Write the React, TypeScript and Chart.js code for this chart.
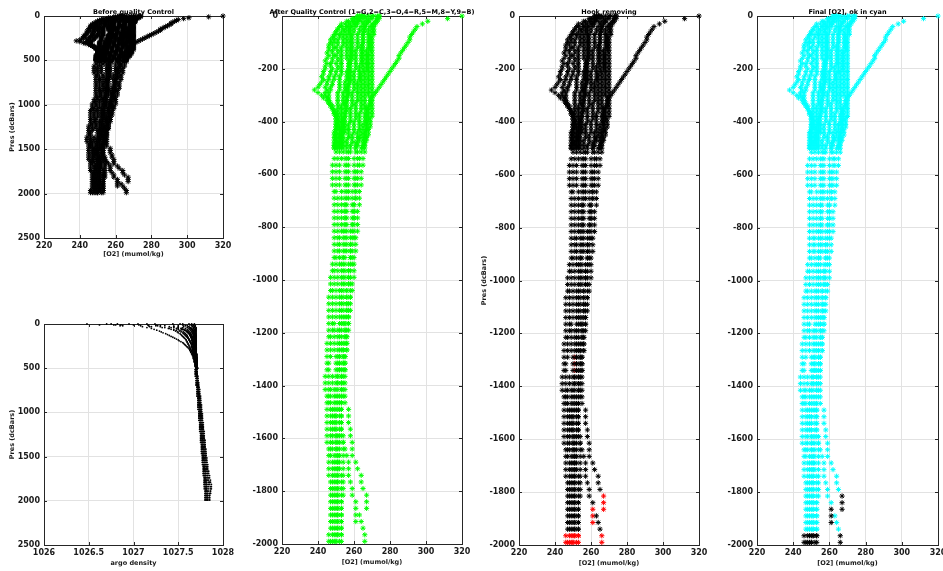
import React, { useEffect, useRef } from "react";
import { Chart, registerables } from "chart.js";

Chart.register(...registerables);

// Pressure levels (dbar) shared by every profile: 51 upper levels + 60 deep levels
const pressure = [
  0, 10, 20, 30, 40, 50, 60, 70, 80, 90,
  100, 110, 120, 130, 140, 150, 160, 170, 180, 190,
  200, 210, 220, 230, 240, 250, 260, 270, 280, 290,
  300, 310, 320, 330, 340, 350, 360, 370, 380, 390,
  400, 410, 420, 430, 440, 450, 460, 470, 480, 490,
  500,
  515, 540, 565, 590, 615, 640, 665, 690, 715, 740,
  765, 790, 815, 840, 865, 890, 915, 940, 965, 990,
  1015, 1040, 1065, 1090, 1115, 1140, 1165, 1190, 1215, 1240,
  1265, 1290, 1315, 1340, 1365, 1390, 1415, 1440, 1465, 1490,
  1515, 1540, 1565, 1590, 1615, 1640, 1665, 1690, 1715, 1740,
  1765, 1790, 1815, 1840, 1865, 1890, 1915, 1940, 1965, 1990,
];

// [O2] (mumol/kg) per profile
const o2P1 = [
  320, 312, 301, 298, 295, 294, 293, 292, 291, 291,
  290, 289, 288, 287, 286, 285, 285, 284, 283, 282,
  281, 280, 279, 278, 277, 276, 275, 274, 273, 272,
  271, 270, 269, 269, 268, 267, 267, 266, 266, 266,
  266, 265, 265, 265, 264, 264, 263, 263, 262, 262,
  261,
  262, 262, 262, 261, 261, 261, 261, 261, 260, 260,
  260, 260, 260, 260, 259, 259, 259, 259, 258, 258,
  258, 258, 258, 257, 257, 257, 257, 256, 256, 256,
  256, 255, 255, 255, 254, 254, 254, 254, 253, 253,
  253, 253, 253, 253, 254, 254, 254, 254, 254, 254,
  254, 254, 254, 253, 253, 253, 253, 253, 253, 253,
];
const o2P2 = [
  262, 260, 257, 255, 253, 251, 250, 249, 248, 247,
  247, 246, 246, 246, 245, 246, 245, 244, 245, 244,
  244, 243, 243, 242, 243, 242, 241, 240, 238, 240,
  242, 243, 245, 246, 247, 248, 249, 249, 250, 250,
  251, 251, 251, 250, 250, 250, 250, 250, 250, 250,
  250,
  250, 249, 248, 248, 248, 248, 249, 249, 249, 249,
  249, 249, 249, 249, 249, 249, 249, 248, 248, 247,
  247, 247, 246, 246, 246, 246, 246, 246, 246, 245,
  245, 245, 245, 245, 244, 244, 244, 245, 245, 245,
  245, 245, 245, 245, 245, 246, 246, 246, 246, 246,
  247, 247, 247, 247, 247, 247, 247, 247, 246, 246,
];
const o2P3 = [
  264, 262, 260, 258, 256, 254, 253, 252, 252, 251,
  251, 251, 250, 251, 251, 250, 251, 251, 250, 251,
  251, 250, 250, 249, 249, 248, 248, 247, 247, 246,
  246, 246, 246, 246, 247, 248, 249, 249, 250, 251,
  251, 251, 252, 252, 252, 252, 252, 252, 251, 251,
  251,
  252, 251, 250, 250, 250, 250, 250, 251, 251, 251,
  251, 251, 251, 251, 251, 251, 250, 250, 249, 249,
  249, 248, 248, 248, 248, 248, 248, 248, 247, 247,
  247, 247, 246, 246, 246, 246, 246, 246, 246, 247,
  247, 247, 247, 247, 247, 247, 247, 248, 248, 248,
  248, 248, 248, 248, 248, 248, 248, 248, 248, 247,
];
const o2P4 = [
  265, 263, 262, 260, 258, 257, 257, 256, 256, 256,
  256, 256, 256, 256, 256, 256, 256, 257, 257, 257,
  257, 256, 256, 256, 256, 255, 255, 255, 255, 254,
  254, 254, 254, 254, 253, 253, 253, 253, 253, 253,
  253, 253, 253, 253, 253, 252, 252, 252, 252, 252,
  252,
  254, 253, 252, 252, 252, 252, 253, 253, 253, 253,
  253, 253, 253, 252, 252, 252, 252, 252, 251, 251,
  251, 250, 250, 250, 250, 250, 249, 249, 249, 249,
  249, 250, 250, 250, 248, 248, 247, 247, 247, 248,
  248, 248, 248, 248, 248, 248, 249, 249, 249, 249,
  249, 249, 249, 249, 249, 249, 249, 249, 249, 248,
];
const o2P5 = [
  266, 265, 264, 262, 261, 260, 260, 259, 259, 259,
  259, 259, 259, 259, 259, 259, 259, 258, 258, 258,
  258, 258, 258, 258, 258, 258, 257, 257, 257, 257,
  257, 256, 256, 256, 256, 256, 256, 255, 255, 255,
  255, 255, 255, 255, 255, 254, 254, 254, 254, 254,
  254,
  256, 255, 255, 255, 255, 255, 255, 255, 255, 255,
  255, 255, 254, 254, 254, 254, 254, 253, 253, 253,
  253, 252, 252, 252, 252, 252, 252, 251, 251, 251,
  251, 251, 251, 251, 250, 250, 249, 249, 249, 249,
  249, 249, 249, 250, 250, 250, 250, 250, 250, 250,
  250, 250, 250, 250, 250, 250, 250, 250, 250, 249,
];
const o2P6 = [
  268, 267, 266, 265, 264, 263, 263, 262, 262, 262,
  262, 262, 262, 261, 261, 261, 261, 261, 261, 261,
  261, 260, 260, 260, 260, 260, 260, 260, 260, 259,
  259, 259, 259, 259, 259, 258, 258, 258, 258, 258,
  258, 257, 257, 257, 257, 257, 257, 256, 256, 256,
  256,
  258, 257, 257, 257, 257, 257, 257, 257, 256, 256,
  256, 256, 256, 256, 256, 256, 255, 255, 255, 255,
  255, 254, 254, 254, 254, 254, 254, 253, 253, 253,
  253, 252, 252, 252, 251, 251, 251, 251, 251, 251,
  250, 250, 250, 251, 251, 251, 251, 251, 251, 251,
  251, 251, 251, 251, 251, 251, 251, 251, 251, 250,
];
const o2P7 = [
  270, 269, 268, 267, 266, 265, 265, 265, 265, 265,
  265, 264, 264, 264, 264, 264, 264, 264, 264, 263,
  263, 263, 263, 263, 263, 262, 262, 262, 262, 262,
  262, 262, 262, 261, 261, 261, 261, 261, 261, 261,
  260, 260, 260, 260, 260, 259, 259, 259, 259, 258,
  258,
  261, 260, 260, 260, 260, 260, 259, 259, 259, 259,
  259, 259, 258, 258, 258, 258, 258, 257, 257, 257,
  257, 256, 256, 256, 256, 256, 255, 255, 255, 255,
  254, 254, 254, 253, 253, 253, 253, 252, 252, 252,
  252, 252, 252, 252, 252, 252, 252, 252, 252, 253,
  253, 253, 253, 253, 253, 253, 253, 253, 253, 252,
];
const o2P8 = [
  273, 273, 272, 270, 269, 268, 268, 268, 268, 268,
  268, 268, 268, 267, 267, 267, 267, 267, 267, 267,
  267, 266, 266, 266, 266, 266, 266, 266, 266, 266,
  266, 266, 266, 266, 266, 266, 267, 267, 267, 267,
  267, 267, 267, 267, 266, 266, 266, 266, 266, 265,
  265,
  266, 265, 265, 264, 264, 264, 263, 263, 263, 262,
  262, 262, 262, 261, 261, 261, 260, 260, 260, 260,
  259, 259, 258, 258, 258, 257, 257, 257, 256, 256,
  256, 255, 255, 255, 255, 255, 255, 255, 255, 257,
  257, 257, 258, 258, 259, 259, 259, 261, 262, 264,
  264, 265, 267, 267, 267, 263, 264, 265, 266, 266,
];
const o2P9 = [
  274, 274, 273, 272, 270, 270, 270, 269, 269, 269,
  269, 269, 269, 269, 268, 268, 268, 268, 268, 268,
  268, 268, 268, 268, 268, 268, 268, 268, 268, 268,
  268, 269, 269, 269, 269, 268, 268, 268, 268, 268,
  267, 267, 267, 267, 266, 266, 265, 265, 265, 265,
  264,
  264, 263, 263, 262, 262, 262, 261, 261, 260, 260,
  260, 259, 259, 259, 258, 258, 258, 258, 257, 257,
  257, 256, 256, 256, 256, 255, 255, 255, 255, 254,
  254, 254, 254, 254, 253, 253, 253, 253, 253, 253,
  253, 253, 253, 254, 254, 255, 256, 257, 257, 257,
  258, 259, 259, 261, 261, 261, 261, null, null, null,
];
const o2P10 = [
  263, 261, 259, 257, 256, 255, 255, 254, 254, 254,
  254, 254, 253, 253, 253, 253, 253, 253, 253, 253,
  253, 253, 253, 252, 252, 252, 252, 252, 252, 251,
  251, 251, 251, 251, 251, 251, 251, 251, 251, 251,
  251, 250, 250, 250, 250, 250, 250, 250, 250, 249,
  249,
  257, 256, 256, 256, 256, 256, 256, 256, 255, 255,
  255, 255, 255, 255, 255, 255, 254, 254, 254, 254,
  254, 253, 253, 253, 253, 253, 253, 252, 252, 252,
  252, 252, 252, 252, 251, 251, 250, 250, 250, 250,
  250, 250, 250, 250, 250, 250, 251, 251, 251, 251,
  251, 251, 251, 251, 251, 251, 251, 251, 251, 250,
];
// shallow profiles (0-500 dbar only)
const o2P11 = [
  271, 270, 268, 267, 266, 266, 266, 265, 265, 265,
  265, 265, 265, 265, 265, 265, 265, 265, 265, 265,
  265, 265, 264, 264, 264, 264, 264, 264, 264, 264,
  264, 264, 264, 264, 264, 264, 264, 263, 263, 263,
  263, 263, 263, 263, 262, 262, 262, 262, 261, 261,
  261,
];
const o2P12 = [
  264, 263, 262, 261, 259, 258, 258, 258, 258, 258,
  258, 258, 258, 258, 258, 258, 258, 258, 258, 257,
  257, 257, 257, 257, 257, 257, 257, 256, 256, 256,
  256, 256, 256, 255, 255, 255, 255, 255, 255, 254,
  254, 254, 254, 254, 254, 253, 253, 253, 253, 253,
  253,
];
const o2P13 = [
  274, 273, 272, 271, 271, 271, 271, 271, 270, 270,
  270, 270, 270, 270, 270, 270, 270, 270, 270, 270,
  270, 270, 270, 270, 270, 270, 270, 270, 270, 270,
  270, 270, 270, 270, 270, 270, 270, 270, 270, 269,
  269, 269, 269, 268, 268, 268, 267, 267, 266, 266,
  266,
];
const o2P14 = [
  262, 259, 256, 253, 252, 251, 250, 250, 249, 249,
  249, 248, 249, 248, 248, 249, 248, 248, 247, 247,
  248, 247, 247, 246, 246, 245, 245, 244, 245, 244,
  244, 245, 246, 247, 248, 248, 249, 250, 250, 250,
  250, 250, 250, 250, 249, 249, 249, 249, 249, 249,
  249,
];

// argo density per profile
const densP1 = [
  1026.48, 1026.62, 1026.85, 1027.1, 1027.15, 1027.2, 1027.23, 1027.26, 1027.29, 1027.31,
  1027.33, 1027.36, 1027.38, 1027.4, 1027.42, 1027.44, 1027.46, 1027.48, 1027.5, 1027.51,
  1027.53, 1027.55, 1027.56, 1027.57, 1027.58, 1027.59, 1027.6, 1027.61, 1027.62, 1027.63,
  1027.63, 1027.64, 1027.64, 1027.65, 1027.65, 1027.66, 1027.66, 1027.67, 1027.67, 1027.67,
  1027.68, 1027.68, 1027.68, 1027.68, 1027.69, 1027.69, 1027.69, 1027.69, 1027.69, 1027.7,
  1027.7,
  1027.69, 1027.69, 1027.69, 1027.69, 1027.7, 1027.7, 1027.7, 1027.7, 1027.71, 1027.71,
  1027.71, 1027.71, 1027.71, 1027.72, 1027.72, 1027.72, 1027.72, 1027.72, 1027.73, 1027.73,
  1027.73, 1027.73, 1027.73, 1027.74, 1027.74, 1027.74, 1027.74, 1027.74, 1027.75, 1027.75,
  1027.75, 1027.75, 1027.75, 1027.76, 1027.76, 1027.76, 1027.76, 1027.76, 1027.77, 1027.77,
  1027.77, 1027.77, 1027.77, 1027.78, 1027.78, 1027.78, 1027.78, 1027.78, 1027.79, 1027.79,
  1027.79, 1027.79, 1027.79, 1027.8, 1027.8, 1027.8, 1027.8, 1027.8, 1027.8, 1027.8,
];
const densP2 = [
  1026.7, 1026.78, 1027.25, 1027.3, 1027.35, 1027.39, 1027.42, 1027.45, 1027.47, 1027.49,
  1027.5, 1027.52, 1027.53, 1027.54, 1027.55, 1027.56, 1027.57, 1027.58, 1027.59, 1027.59,
  1027.6, 1027.6, 1027.61, 1027.61, 1027.62, 1027.62, 1027.63, 1027.63, 1027.64, 1027.64,
  1027.65, 1027.65, 1027.66, 1027.66, 1027.66, 1027.66, 1027.67, 1027.67, 1027.67, 1027.67,
  1027.68, 1027.68, 1027.68, 1027.68, 1027.69, 1027.69, 1027.69, 1027.69, 1027.69, 1027.7,
  1027.7,
  1027.71, 1027.71, 1027.71, 1027.71, 1027.71, 1027.72, 1027.72, 1027.72, 1027.72, 1027.72,
  1027.73, 1027.73, 1027.73, 1027.73, 1027.73, 1027.74, 1027.74, 1027.74, 1027.74, 1027.74,
  1027.75, 1027.75, 1027.75, 1027.75, 1027.75, 1027.76, 1027.76, 1027.76, 1027.76, 1027.76,
  1027.77, 1027.77, 1027.77, 1027.77, 1027.77, 1027.78, 1027.78, 1027.78, 1027.78, 1027.78,
  1027.79, 1027.79, 1027.79, 1027.79, 1027.79, 1027.8, 1027.8, 1027.8, 1027.8, 1027.8,
  1027.81, 1027.81, 1027.81, 1027.81, 1027.81, 1027.82, 1027.82, 1027.82, 1027.82, 1027.82,
];
const densP3 = [
  1026.82, 1026.86, 1027.3, 1027.4, 1027.45, 1027.48, 1027.5, 1027.52, 1027.54, 1027.56,
  1027.57, 1027.58, 1027.59, 1027.6, 1027.6, 1027.61, 1027.61, 1027.62, 1027.62, 1027.63,
  1027.63, 1027.64, 1027.64, 1027.65, 1027.65, 1027.65, 1027.65, 1027.66, 1027.66, 1027.66,
  1027.66, 1027.66, 1027.67, 1027.67, 1027.67, 1027.67, 1027.68, 1027.68, 1027.68, 1027.68,
  1027.68, 1027.69, 1027.69, 1027.69, 1027.69, 1027.69, 1027.69, 1027.7, 1027.7, 1027.7,
  1027.7,
  1027.7, 1027.7, 1027.7, 1027.7, 1027.71, 1027.71, 1027.71, 1027.71, 1027.71, 1027.72,
  1027.72, 1027.72, 1027.72, 1027.72, 1027.73, 1027.73, 1027.73, 1027.73, 1027.73, 1027.74,
  1027.74, 1027.74, 1027.74, 1027.74, 1027.75, 1027.75, 1027.75, 1027.75, 1027.75, 1027.76,
  1027.76, 1027.76, 1027.76, 1027.76, 1027.77, 1027.77, 1027.77, 1027.77, 1027.77, 1027.78,
  1027.78, 1027.78, 1027.78, 1027.78, 1027.79, 1027.79, 1027.79, 1027.79, 1027.79, 1027.8,
  1027.8, 1027.8, 1027.8, 1027.8, 1027.81, 1027.81, 1027.81, 1027.81, 1027.81, 1027.81,
];
const densP4 = [
  1027.05, 1027.06, 1027.08, 1027.45, 1027.5, 1027.53, 1027.55, 1027.57, 1027.59, 1027.6,
  1027.61, 1027.62, 1027.63, 1027.63, 1027.64, 1027.64, 1027.65, 1027.65, 1027.65, 1027.65,
  1027.66, 1027.66, 1027.66, 1027.66, 1027.67, 1027.67, 1027.67, 1027.67, 1027.67, 1027.68,
  1027.68, 1027.68, 1027.68, 1027.68, 1027.68, 1027.68, 1027.69, 1027.69, 1027.69, 1027.69,
  1027.69, 1027.69, 1027.69, 1027.69, 1027.7, 1027.7, 1027.7, 1027.7, 1027.7, 1027.7,
  1027.7,
  1027.7, 1027.7, 1027.71, 1027.71, 1027.71, 1027.72, 1027.72, 1027.72, 1027.73, 1027.73,
  1027.73, 1027.74, 1027.74, 1027.74, 1027.75, 1027.75, 1027.75, 1027.75, 1027.76, 1027.76,
  1027.76, 1027.76, 1027.77, 1027.77, 1027.77, 1027.77, 1027.78, 1027.78, 1027.78, 1027.78,
  1027.79, 1027.79, 1027.79, 1027.79, 1027.8, 1027.8, 1027.8, 1027.8, 1027.81, 1027.81,
  1027.81, 1027.81, 1027.82, 1027.82, 1027.82, 1027.82, 1027.83, 1027.83, 1027.83, 1027.83,
  1027.83, 1027.84, 1027.84, 1027.84, 1027.84, 1027.84, 1027.85, 1027.85, 1027.85, 1027.85,
];
const densP5 = [
  1027.24, 1027.25, 1027.27, 1027.5, 1027.55, 1027.58, 1027.6, 1027.61, 1027.62, 1027.63,
  1027.64, 1027.64, 1027.65, 1027.65, 1027.66, 1027.66, 1027.66, 1027.67, 1027.67, 1027.67,
  1027.67, 1027.67, 1027.67, 1027.68, 1027.68, 1027.68, 1027.68, 1027.68, 1027.68, 1027.68,
  1027.68, 1027.69, 1027.69, 1027.69, 1027.69, 1027.69, 1027.69, 1027.69, 1027.69, 1027.69,
  1027.69, 1027.7, 1027.7, 1027.7, 1027.7, 1027.7, 1027.7, 1027.7, 1027.7, 1027.71,
  1027.71,
  1027.69, 1027.69, 1027.69, 1027.7, 1027.7, 1027.7, 1027.7, 1027.7, 1027.71, 1027.71,
  1027.71, 1027.71, 1027.71, 1027.72, 1027.72, 1027.72, 1027.72, 1027.72, 1027.72, 1027.73,
  1027.73, 1027.73, 1027.73, 1027.73, 1027.74, 1027.74, 1027.74, 1027.74, 1027.74, 1027.75,
  1027.75, 1027.75, 1027.75, 1027.75, 1027.76, 1027.76, 1027.76, 1027.76, 1027.76, 1027.77,
  1027.77, 1027.77, 1027.77, 1027.77, 1027.78, 1027.78, 1027.78, 1027.78, 1027.78, 1027.79,
  1027.79, 1027.79, 1027.79, 1027.79, 1027.79, 1027.8, 1027.8, 1027.8, 1027.8, 1027.8,
];
const densP6 = [
  1027.44, 1027.45, 1027.5, 1027.56, 1027.6, 1027.62, 1027.63, 1027.64, 1027.65, 1027.65,
  1027.66, 1027.66, 1027.67, 1027.67, 1027.67, 1027.67, 1027.68, 1027.68, 1027.68, 1027.68,
  1027.68, 1027.68, 1027.68, 1027.69, 1027.69, 1027.69, 1027.69, 1027.69, 1027.69, 1027.69,
  1027.69, 1027.69, 1027.69, 1027.69, 1027.7, 1027.7, 1027.7, 1027.7, 1027.7, 1027.7,
  1027.7, 1027.7, 1027.7, 1027.7, 1027.7, 1027.7, 1027.71, 1027.71, 1027.71, 1027.71,
  1027.71,
  1027.7, 1027.71, 1027.71, 1027.71, 1027.71, 1027.72, 1027.72, 1027.72, 1027.72, 1027.73,
  1027.73, 1027.73, 1027.73, 1027.74, 1027.74, 1027.74, 1027.74, 1027.75, 1027.75, 1027.75,
  1027.75, 1027.76, 1027.76, 1027.76, 1027.76, 1027.77, 1027.77, 1027.77, 1027.77, 1027.77,
  1027.78, 1027.78, 1027.78, 1027.78, 1027.79, 1027.79, 1027.79, 1027.79, 1027.79, 1027.8,
  1027.8, 1027.8, 1027.8, 1027.8, 1027.81, 1027.81, 1027.81, 1027.81, 1027.81, 1027.82,
  1027.82, 1027.82, 1027.82, 1027.82, 1027.82, 1027.83, 1027.83, 1027.83, 1027.83, 1027.83,
];
const densP7 = [
  1027.55, 1027.56, 1027.6, 1027.62, 1027.64, 1027.65, 1027.66, 1027.67, 1027.67, 1027.67,
  1027.67, 1027.68, 1027.68, 1027.68, 1027.68, 1027.68, 1027.68, 1027.69, 1027.69, 1027.69,
  1027.69, 1027.69, 1027.69, 1027.69, 1027.69, 1027.69, 1027.69, 1027.69, 1027.69, 1027.7,
  1027.7, 1027.7, 1027.7, 1027.7, 1027.7, 1027.7, 1027.7, 1027.7, 1027.7, 1027.7,
  1027.7, 1027.7, 1027.71, 1027.71, 1027.71, 1027.71, 1027.71, 1027.71, 1027.71, 1027.71,
  1027.71,
  1027.7, 1027.7, 1027.7, 1027.71, 1027.71, 1027.71, 1027.71, 1027.72, 1027.72, 1027.72,
  1027.72, 1027.72, 1027.73, 1027.73, 1027.73, 1027.73, 1027.73, 1027.74, 1027.74, 1027.74,
  1027.74, 1027.74, 1027.75, 1027.75, 1027.75, 1027.75, 1027.75, 1027.76, 1027.76, 1027.76,
  1027.76, 1027.76, 1027.77, 1027.77, 1027.77, 1027.77, 1027.77, 1027.78, 1027.78, 1027.78,
  1027.78, 1027.78, 1027.79, 1027.79, 1027.79, 1027.79, 1027.79, 1027.8, 1027.8, 1027.8,
  1027.8, 1027.8, 1027.81, 1027.81, 1027.81, 1027.81, 1027.81, 1027.82, 1027.82, 1027.82,
];
const densP8 = [
  1027.62, 1027.63, 1027.65, 1027.66, 1027.67, 1027.67, 1027.68, 1027.68, 1027.68, 1027.68,
  1027.68, 1027.68, 1027.69, 1027.69, 1027.69, 1027.69, 1027.69, 1027.69, 1027.69, 1027.69,
  1027.69, 1027.69, 1027.69, 1027.7, 1027.7, 1027.7, 1027.7, 1027.7, 1027.7, 1027.7,
  1027.7, 1027.7, 1027.7, 1027.7, 1027.7, 1027.7, 1027.7, 1027.7, 1027.7, 1027.7,
  1027.71, 1027.71, 1027.71, 1027.71, 1027.71, 1027.71, 1027.71, 1027.71, 1027.71, 1027.71,
  1027.71,
  1027.71, 1027.71, 1027.71, 1027.72, 1027.72, 1027.72, 1027.73, 1027.73, 1027.73, 1027.74,
  1027.74, 1027.74, 1027.75, 1027.75, 1027.75, 1027.75, 1027.76, 1027.76, 1027.76, 1027.76,
  1027.77, 1027.77, 1027.77, 1027.77, 1027.78, 1027.78, 1027.78, 1027.78, 1027.79, 1027.79,
  1027.79, 1027.79, 1027.8, 1027.8, 1027.8, 1027.8, 1027.81, 1027.81, 1027.81, 1027.81,
  1027.82, 1027.82, 1027.82, 1027.83, 1027.83, 1027.83, 1027.84, 1027.84, 1027.85, 1027.85,
  1027.86, 1027.86, 1027.87, 1027.87, 1027.87, 1027.86, 1027.86, 1027.85, 1027.85, 1027.85,
];
const densP9 = [
  1027.68, 1027.68, 1027.69, 1027.69, 1027.7, 1027.7, 1027.7, 1027.7, 1027.7, 1027.7,
  1027.7, 1027.7, 1027.7, 1027.7, 1027.7, 1027.7, 1027.7, 1027.7, 1027.7, 1027.7,
  1027.7, 1027.7, 1027.7, 1027.7, 1027.7, 1027.7, 1027.7, 1027.7, 1027.7, 1027.7,
  1027.7, 1027.7, 1027.7, 1027.7, 1027.71, 1027.71, 1027.71, 1027.71, 1027.71, 1027.71,
  1027.71, 1027.71, 1027.71, 1027.71, 1027.71, 1027.71, 1027.71, 1027.71, 1027.71, 1027.71,
  1027.72,
  1027.7, 1027.71, 1027.71, 1027.71, 1027.72, 1027.72, 1027.72, 1027.72, 1027.73, 1027.73,
  1027.73, 1027.73, 1027.74, 1027.74, 1027.74, 1027.74, 1027.75, 1027.75, 1027.75, 1027.75,
  1027.76, 1027.76, 1027.76, 1027.76, 1027.77, 1027.77, 1027.77, 1027.77, 1027.78, 1027.78,
  1027.78, 1027.78, 1027.79, 1027.79, 1027.79, 1027.79, 1027.8, 1027.8, 1027.8, 1027.8,
  1027.8, 1027.81, 1027.81, 1027.81, 1027.82, 1027.82, 1027.82, 1027.83, 1027.83, 1027.84,
  1027.84, 1027.85, 1027.85, 1027.86, 1027.86, 1027.86, 1027.86, null, null, null,
];
const densP10 = [
  1026.95, 1027.0, 1027.35, 1027.45, 1027.5, 1027.54, 1027.56, 1027.58, 1027.6, 1027.61,
  1027.62, 1027.63, 1027.63, 1027.64, 1027.64, 1027.65, 1027.65, 1027.65, 1027.66, 1027.66,
  1027.66, 1027.66, 1027.67, 1027.67, 1027.67, 1027.67, 1027.67, 1027.68, 1027.68, 1027.68,
  1027.68, 1027.68, 1027.68, 1027.69, 1027.69, 1027.69, 1027.69, 1027.69, 1027.69, 1027.69,
  1027.69, 1027.7, 1027.7, 1027.7, 1027.7, 1027.7, 1027.7, 1027.7, 1027.7, 1027.7,
  1027.7,
  1027.7, 1027.7, 1027.7, 1027.71, 1027.71, 1027.71, 1027.71, 1027.72, 1027.72, 1027.72,
  1027.72, 1027.73, 1027.73, 1027.73, 1027.73, 1027.74, 1027.74, 1027.74, 1027.74, 1027.75,
  1027.75, 1027.75, 1027.75, 1027.75, 1027.76, 1027.76, 1027.76, 1027.76, 1027.77, 1027.77,
  1027.77, 1027.77, 1027.77, 1027.78, 1027.78, 1027.78, 1027.78, 1027.79, 1027.79, 1027.79,
  1027.79, 1027.79, 1027.8, 1027.8, 1027.8, 1027.8, 1027.8, 1027.81, 1027.81, 1027.81,
  1027.81, 1027.81, 1027.82, 1027.82, 1027.82, 1027.82, 1027.83, 1027.83, 1027.83, 1027.83,
];
const densP11 = [
  1027.52, 1027.55, 1027.58, 1027.61, 1027.63, 1027.64, 1027.65, 1027.66, 1027.66, 1027.67,
  1027.67, 1027.67, 1027.68, 1027.68, 1027.68, 1027.68, 1027.68, 1027.69, 1027.69, 1027.69,
  1027.69, 1027.69, 1027.69, 1027.69, 1027.69, 1027.69, 1027.7, 1027.7, 1027.7, 1027.7,
  1027.7, 1027.7, 1027.7, 1027.7, 1027.7, 1027.7, 1027.7, 1027.7, 1027.7, 1027.7,
  1027.7, 1027.7, 1027.71, 1027.71, 1027.71, 1027.71, 1027.71, 1027.71, 1027.71, 1027.71,
  1027.71,
];
const densP12 = [
  1027.15, 1027.16, 1027.17, 1027.18, 1027.42, 1027.5, 1027.54, 1027.57, 1027.59, 1027.6,
  1027.61, 1027.62, 1027.63, 1027.64, 1027.64, 1027.65, 1027.65, 1027.66, 1027.66, 1027.66,
  1027.67, 1027.67, 1027.67, 1027.67, 1027.68, 1027.68, 1027.68, 1027.68, 1027.68, 1027.68,
  1027.69, 1027.69, 1027.69, 1027.69, 1027.69, 1027.69, 1027.69, 1027.69, 1027.7, 1027.7,
  1027.7, 1027.7, 1027.7, 1027.7, 1027.7, 1027.7, 1027.7, 1027.7, 1027.7, 1027.7,
  1027.7,
];
const densP13 = [
  1027.65, 1027.66, 1027.67, 1027.68, 1027.68, 1027.69, 1027.69, 1027.69, 1027.69, 1027.69,
  1027.69, 1027.69, 1027.69, 1027.7, 1027.7, 1027.7, 1027.7, 1027.7, 1027.7, 1027.7,
  1027.7, 1027.7, 1027.7, 1027.7, 1027.7, 1027.7, 1027.7, 1027.7, 1027.7, 1027.7,
  1027.7, 1027.7, 1027.7, 1027.7, 1027.7, 1027.7, 1027.7, 1027.7, 1027.71, 1027.71,
  1027.71, 1027.71, 1027.71, 1027.71, 1027.71, 1027.71, 1027.71, 1027.71, 1027.71, 1027.71,
  1027.71,
];
const densP14 = [
  1026.75, 1026.8, 1026.88, 1027.2, 1027.32, 1027.4, 1027.45, 1027.48, 1027.51, 1027.53,
  1027.55, 1027.56, 1027.57, 1027.58, 1027.59, 1027.6, 1027.61, 1027.62, 1027.62, 1027.63,
  1027.63, 1027.64, 1027.64, 1027.65, 1027.65, 1027.65, 1027.66, 1027.66, 1027.66, 1027.67,
  1027.67, 1027.67, 1027.67, 1027.68, 1027.68, 1027.68, 1027.68, 1027.68, 1027.69, 1027.69,
  1027.69, 1027.69, 1027.69, 1027.69, 1027.69, 1027.7, 1027.7, 1027.7, 1027.7, 1027.7,
  1027.7,
];

const o2Profiles = [o2P1, o2P2, o2P3, o2P4, o2P5, o2P6, o2P7, o2P8, o2P9, o2P10, o2P11, o2P12, o2P13, o2P14];
const densProfiles = [densP1, densP2, densP3, densP4, densP5, densP6, densP7, densP8, densP9, densP10, densP11, densP12, densP13, densP14];

// Hook-flagged points: [profile index, from pressure, to pressure]
const hookRanges = [
  [0, 1965, 1990], [1, 1965, 1990], [2, 1965, 1990], [3, 1965, 1990],
  [4, 1290, 1340], [4, 1965, 1990], [5, 1965, 1990], [6, 1965, 1990],
  [7, 1815, 1865], [7, 1965, 1990], [8, 1865, 1915], [9, 1965, 1990],
];
// Hook-flagged points that are kept in the final [O2] (shown as small black dots)
const keptRanges = [[4, 1290, 1340]];

const o2Ticks = [220, 240, 260, 280, 300, 320];
const densTicks = [1026, 1026.5, 1027, 1027.5, 1028];
const presTicks = [0, 500, 1000, 1500, 2000, 2500];
const negPresTicks = [-2000, -1800, -1600, -1400, -1200, -1000, -800, -600, -400, -200, 0];

const titles = [
  "Before quality Control",
  "",
  "After Quality Control (1=G,2=C,3=O,4=R,5=M,8=Y,9=B)",
  "Hook removing",
  "Final [O2], ok in cyan",
];
const o2Label = "[O2] (mumol/kg)";
const densLabel = "argo density";
const presLabel = "Pres (dcBars)";

const FONT = "'DejaVu Sans', sans-serif";

function inRanges(ranges: number[][], pi: number, p: number) {
  return ranges.some(([i, a, b]) => i === pi && p >= a && p <= b);
}
const isHook = (pi: number, p: number) => inRanges(hookRanges, pi, p);
const isKept = (pi: number, p: number) => inRanges(keptRanges, pi, p);
const isFinalBad = (pi: number, p: number) => isHook(pi, p) && !isKept(pi, p);

function buildPoints(profiles: (number | null)[][], sign: number, pick: (pi: number, p: number) => boolean) {
  const pts: { x: number; y: number }[] = [];
  profiles.forEach((prof, pi) => {
    prof.forEach((v, li) => {
      if (v == null) return;
      const p = pressure[li];
      if (pick(pi, p)) pts.push({ x: v, y: sign * p });
    });
  });
  return pts;
}

function starSet(data: any[], color: string) {
  return {
    data,
    pointStyle: "star",
    pointRadius: 2.6,
    pointBorderWidth: 1,
    borderColor: color,
    pointBorderColor: color,
    backgroundColor: "transparent",
    showLine: false,
    clip: false,
  };
}

function dotSet(data: any[], color: string, r = 0.9) {
  return {
    data,
    pointStyle: "circle",
    pointRadius: r,
    pointBorderWidth: 0,
    backgroundColor: color,
    pointBackgroundColor: color,
    borderColor: color,
    showLine: false,
    clip: false,
  };
}

const all = () => true;

const panels = [
  {
    left: 0, top: 0, width: 253, height: 258, wy: 44, hx: 20, padTop: 16, padRight: 30,
    title: titles[0], xTitle: o2Label, yTitle: presLabel, yTitlePad: 8,
    xMin: 220, xMax: 320, xTicks: o2Ticks, yMin: 0, yMax: 2500, yTicks: presTicks, reverse: true,
    datasets: () => [starSet(buildPoints(o2Profiles, 1, all), "#000000")],
  },
  {
    left: 0, top: 290, width: 253, height: 277, wy: 44, hx: 22, padTop: 34, padRight: 30,
    title: titles[1], xTitle: densLabel, yTitle: presLabel, yTitlePad: 8,
    xMin: 1026, xMax: 1028, xTicks: densTicks, yMin: 0, yMax: 2500, yTicks: presTicks, reverse: true,
    datasets: () => [dotSet(buildPoints(densProfiles, 1, all), "#000000")],
  },
  {
    left: 242, top: 0, width: 250, height: 566, wy: 40, hx: 22, padTop: 16, padRight: 30,
    title: titles[2], xTitle: o2Label, yTitle: "", yTitlePad: 0,
    xMin: 220, xMax: 320, xTicks: o2Ticks, yMin: -2000, yMax: 0, yTicks: negPresTicks, reverse: false,
    datasets: () => [starSet(buildPoints(o2Profiles, -1, all), "#00ff00")],
  },
  {
    left: 476, top: 0, width: 253, height: 567, wy: 43, hx: 22, padTop: 16, padRight: 30,
    title: titles[3], xTitle: o2Label, yTitle: presLabel, yTitlePad: 4,
    xMin: 220, xMax: 320, xTicks: o2Ticks, yMin: -2000, yMax: 0, yTicks: negPresTicks, reverse: false,
    datasets: () => [
      starSet(buildPoints(o2Profiles, -1, (pi, p) => !isHook(pi, p)), "#000000"),
      starSet(buildPoints(o2Profiles, -1, isHook), "#ff0000"),
    ],
  },
  {
    left: 717, top: 0, width: 251, height: 567, wy: 40, hx: 22, padTop: 16, padRight: 30,
    title: titles[4], xTitle: o2Label, yTitle: "", yTitlePad: 0,
    xMin: 220, xMax: 320, xTicks: o2Ticks, yMin: -2000, yMax: 0, yTicks: negPresTicks, reverse: false,
    datasets: () => [
      starSet(buildPoints(o2Profiles, -1, isFinalBad), "#000000"),
      starSet(buildPoints(o2Profiles, -1, (pi, p) => !isFinalBad(pi, p)), "#00ffff"),
      dotSet(buildPoints(o2Profiles, -1, isKept), "#000000", 0.7),
    ],
  },
];

const framePlugin = {
  id: "frame",
  beforeDatasetsDraw(chart: any) {
    const { ctx, chartArea } = chart;
    const { left, right, top, bottom } = chartArea;
    const xs = chart.scales.x;
    const ys = chart.scales.y;
    ctx.save();
    ctx.lineWidth = 1;
    ctx.strokeStyle = "#262626";
    ctx.beginPath();
    for (const t of xs.ticks) {
      const px = Math.round(xs.getPixelForValue(t.value)) + 0.5;
      ctx.moveTo(px, bottom);
      ctx.lineTo(px, bottom - 3);
      ctx.moveTo(px, top);
      ctx.lineTo(px, top + 3);
    }
    for (const t of ys.ticks) {
      const py = Math.round(ys.getPixelForValue(t.value)) + 0.5;
      ctx.moveTo(left, py);
      ctx.lineTo(left + 3, py);
      ctx.moveTo(right, py);
      ctx.lineTo(right - 3, py);
    }
    ctx.stroke();
    ctx.strokeRect(Math.round(left) + 0.5, Math.round(top) + 0.5, Math.round(right - left), Math.round(bottom - top));
    ctx.restore();
  },
};

function makeTitlePlugin(text: string) {
  return {
    id: "panelTitle",
    afterDraw(chart: any) {
      if (!text) return;
      const { ctx, chartArea } = chart;
      ctx.save();
      ctx.font = `bold 6.5px ${FONT}`;
      ctx.fillStyle = "#000000";
      ctx.textAlign = "center";
      ctx.textBaseline = "middle";
      ctx.fillText(text, (chartArea.left + chartArea.right) / 2, chartArea.top - 3.5);
      ctx.restore();
    },
  };
}

function PanelChart({ cfg }: { cfg: any }) {
  const ref = useRef<HTMLCanvasElement | null>(null);
  useEffect(() => {
    if (!ref.current) return;
    const tickFont = { family: FONT, size: 8, weight: "bold" as const };
    const titleFont = { family: FONT, size: 6.5, weight: "bold" as const, lineHeight: 1.2 };
    const chart = new Chart(ref.current, {
      type: "scatter",
      data: { datasets: cfg.datasets() },
      options: {
        animation: false,
        responsive: false,
        events: [],
        layout: { padding: { top: cfg.padTop, right: cfg.padRight, left: 0, bottom: 0 } },
        plugins: { legend: { display: false }, tooltip: { enabled: false }, title: { display: false } },
        scales: {
          x: {
            type: "linear",
            min: cfg.xMin,
            max: cfg.xMax,
            afterBuildTicks: (s: any) => { s.ticks = cfg.xTicks.map((v: number) => ({ value: v })); },
            afterFit: (s: any) => { s.height = cfg.hx; },
            grid: { color: "#e2e2e2", drawTicks: false, lineWidth: 1 },
            border: { display: false },
            ticks: {
              font: tickFont, color: "#1a1a1a", padding: 3, autoSkip: false, maxRotation: 0, minRotation: 0,
              callback: (v: any) => String(v),
            },
            title: { display: true, text: cfg.xTitle, font: titleFont, color: "#1a1a1a", padding: { top: 0, bottom: 0 } },
          },
          y: {
            type: "linear",
            min: cfg.yMin,
            max: cfg.yMax,
            reverse: cfg.reverse,
            afterBuildTicks: (s: any) => { s.ticks = cfg.yTicks.map((v: number) => ({ value: v })); },
            afterFit: (s: any) => { s.width = cfg.wy; },
            grid: { color: "#e2e2e2", drawTicks: false, lineWidth: 1 },
            border: { display: false },
            ticks: {
              font: tickFont, color: "#1a1a1a", padding: 4, autoSkip: false,
              callback: (v: any) => String(v),
            },
            title: {
              display: !!cfg.yTitle, text: cfg.yTitle, font: titleFont, color: "#1a1a1a",
              padding: { top: cfg.yTitlePad, bottom: 0 },
            },
          },
        },
      } as any,
      plugins: [framePlugin, makeTitlePlugin(cfg.title)],
    });
    return () => chart.destroy();
  }, [cfg]);
  return (
    <canvas
      ref={ref}
      width={cfg.width}
      height={cfg.height}
      style={{ position: "absolute", left: cfg.left, top: cfg.top, width: cfg.width, height: cfg.height }}
    />
  );
}

export default function App() {
  return (
    <div
      style={{
        position: "absolute", left: 0, top: 0, width: 943, height: 571,
        overflow: "hidden", background: "#ffffff",
      }}
    >
      {panels.map((cfg, i) => (
        <PanelChart key={i} cfg={cfg} />
      ))}
    </div>
  );
}
